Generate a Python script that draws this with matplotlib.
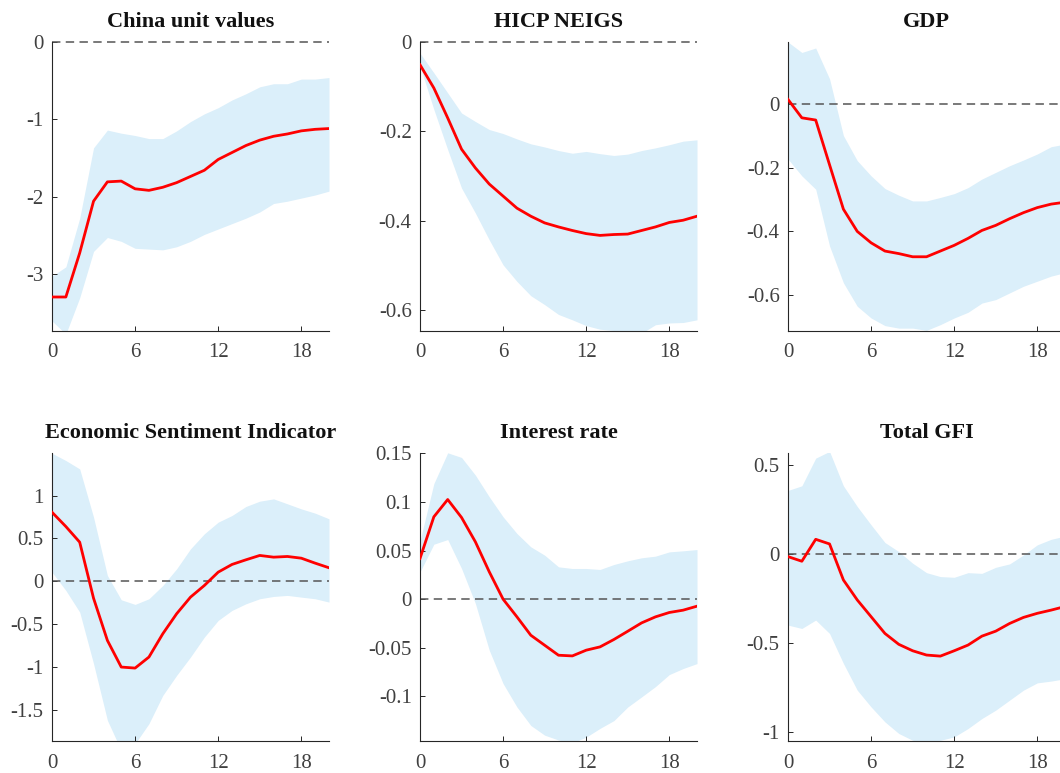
import numpy as np
import matplotlib
matplotlib.use("Agg")
import matplotlib.pyplot as plt

horizon = np.arange(21)
xticks = [0, 6, 12, 18]

titles = ["China unit values", "HICP NEIGS", "GDP",
          "Economic Sentiment Indicator", "Interest rate", "Total GFI"]

china_mid = [-3.30, -3.30, -2.73, -2.06, -1.81, -1.80, -1.90, -1.92, -1.88, -1.82, -1.74,
             -1.66, -1.52, -1.43, -1.34, -1.27, -1.22, -1.19, -1.15, -1.13, -1.12]
china_up = [-3.03, -2.91, -2.28, -1.37, -1.14, -1.18, -1.21, -1.25, -1.25, -1.15, -1.03,
            -0.93, -0.85, -0.75, -0.67, -0.58, -0.54, -0.54, -0.48, -0.48, -0.46]
china_lo = [-3.61, -3.78, -3.31, -2.71, -2.53, -2.58, -2.67, -2.68, -2.69, -2.65, -2.58,
            -2.49, -2.42, -2.35, -2.28, -2.20, -2.09, -2.06, -2.02, -1.98, -1.93]

hicp_mid = [-0.051, -0.103, -0.170, -0.240, -0.282, -0.318, -0.345, -0.372, -0.390, -0.405, -0.414,
            -0.422, -0.429, -0.433, -0.431, -0.430, -0.422, -0.414, -0.404, -0.399, -0.390]
hicp_up = [-0.025, -0.069, -0.114, -0.159, -0.178, -0.196, -0.205, -0.217, -0.228, -0.235, -0.243,
           -0.249, -0.245, -0.250, -0.254, -0.251, -0.243, -0.237, -0.230, -0.222, -0.219]
hicp_lo = [-0.054, -0.151, -0.241, -0.327, -0.383, -0.443, -0.499, -0.536, -0.568, -0.588, -0.610,
           -0.622, -0.635, -0.643, -0.646, -0.650, -0.652, -0.633, -0.629, -0.628, -0.622]

gdp_mid = [0.016, -0.042, -0.049, -0.19, -0.33, -0.40, -0.436, -0.462, -0.470, -0.480, -0.480,
           -0.462, -0.444, -0.422, -0.397, -0.381, -0.360, -0.341, -0.325, -0.314, -0.308]
gdp_up = [0.197, 0.164, 0.178, 0.081, -0.098, -0.177, -0.225, -0.265, -0.286, -0.304, -0.304,
          -0.293, -0.281, -0.262, -0.235, -0.214, -0.193, -0.175, -0.156, -0.133, -0.125]
gdp_lo = [-0.172, -0.225, -0.267, -0.446, -0.562, -0.636, -0.673, -0.697, -0.705, -0.705, -0.712,
          -0.694, -0.673, -0.655, -0.626, -0.615, -0.594, -0.573, -0.557, -0.541, -0.530]

esi_mid = [0.805, 0.638, 0.455, -0.20, -0.693, -1.004, -1.016, -0.887, -0.615, -0.381, -0.187,
           -0.051, 0.105, 0.195, 0.249, 0.300, 0.280, 0.288, 0.268, 0.210, 0.156]
esi_up = [1.494, 1.409, 1.311, 0.747, 0.066, -0.218, -0.272, -0.206, -0.051, 0.144, 0.377,
          0.553, 0.689, 0.767, 0.872, 0.934, 0.961, 0.903, 0.844, 0.794, 0.728]
esi_lo = [0.105, -0.109, -0.362, -0.965, -1.626, -1.98, -1.90, -1.665, -1.335, -1.101, -0.887,
          -0.654, -0.459, -0.342, -0.265, -0.206, -0.179, -0.167, -0.187, -0.206, -0.245]

rate_mid = [0.0419, 0.0848, 0.1026, 0.0841, 0.059, 0.0282, 0.0, -0.0182, -0.0371, -0.0474, -0.0577,
            -0.0584, -0.0525, -0.0491, -0.0415, -0.0330, -0.0244, -0.0182, -0.0137, -0.0113, -0.0072]
rate_up = [0.060, 0.119, 0.1507, 0.1459, 0.1277, 0.1054, 0.0848, 0.0676, 0.0539, 0.0453, 0.0333,
           0.0316, 0.0316, 0.0306, 0.0357, 0.0395, 0.0426, 0.0443, 0.0487, 0.0498, 0.0511]
rate_lo = [0.028, 0.0566, 0.0614, 0.0316, -0.0045, -0.0525, -0.0869, -0.111, -0.130, -0.140, -0.145,
           -0.148, -0.142, -0.133, -0.125, -0.111, -0.1006, -0.090, -0.0776, -0.0714, -0.0663]

gfi_mid = [-0.015, -0.041, 0.082, 0.056, -0.146, -0.258, -0.352, -0.446, -0.507, -0.543, -0.567,
           -0.573, -0.543, -0.511, -0.461, -0.433, -0.390, -0.356, -0.333, -0.315, -0.295]
gfi_up = [0.356, 0.382, 0.537, 0.575, 0.382, 0.266, 0.163, 0.064, 0.013, -0.052, -0.105,
          -0.127, -0.131, -0.105, -0.109, -0.075, -0.056, -0.006, 0.051, 0.082, 0.100]
gfi_lo = [-0.399, -0.418, -0.371, -0.446, -0.614, -0.764, -0.858, -0.942, -1.007, -1.045, -1.054,
          -1.045, -1.026, -0.979, -0.923, -0.876, -0.820, -0.764, -0.723, -0.713, -0.700]

mids = [china_mid, hicp_mid, gdp_mid, esi_mid, rate_mid, gfi_mid]
ups = [china_up, hicp_up, gdp_up, esi_up, rate_up, gfi_up]
los = [china_lo, hicp_lo, gdp_lo, esi_lo, rate_lo, gfi_lo]

yticks = [[0, -1, -2, -3],
          [0, -0.2, -0.4, -0.6],
          [0, -0.2, -0.4, -0.6],
          [1, 0.5, 0, -0.5, -1, -1.5],
          [0.15, 0.1, 0.05, 0, -0.05, -0.1],
          [0.5, 0, -0.5, -1]]
yticklabels = [["0", "-1", "-2", "-3"],
               ["0", "-0.2", "-0.4", "-0.6"],
               ["0", "-0.2", "-0.4", "-0.6"],
               ["1", "0.5", "0", "-0.5", "-1", "-1.5"],
               ["0.15", "0.1", "0.05", "0", "-0.05", "-0.1"],
               ["0.5", "0", "-0.5", "-1"]]
ylims = [(-3.74, 0.0), (-0.647, 0.0), (-0.714, 0.197),
         (-1.868, 1.497), (-0.146, 0.1505), (-1.049, 0.566)]

plt.rcParams['font.family'] = ['Liberation Serif', 'DejaVu Serif']

fig = plt.figure(figsize=(10.60, 7.73), dpi=100)
W, H = 1060.0, 773.0
lefts = [52, 420, 788]
rows = [(42, 331), (453, 741)]

for i in range(6):
    r, c = divmod(i, 3)
    top, bot = rows[r]
    ax = fig.add_axes([lefts[c] / W, 1 - bot / H, 277 / W, (bot - top) / H])
    ax.fill_between(horizon, los[i], ups[i], color='#dbeffa', lw=0, zorder=1)
    ax.plot([0, 20], [0, 0], ls=(0, (5.5, 3.5)), color='#555555', lw=1.1, zorder=2, clip_on=False)
    ax.plot(horizon, mids[i], color='#ff0000', lw=2.0, zorder=3)
    ax.set_xlim(0, 20)
    ax.set_ylim(*ylims[i])
    ax.set_xticks(xticks)
    ax.set_xticklabels([str(t) for t in xticks])
    ax.set_yticks(yticks[i])
    ax.set_yticklabels(yticklabels[i])
    for s in ['top', 'right']:
        ax.spines[s].set_visible(False)
    for s in ['left', 'bottom']:
        ax.spines[s].set_linewidth(0.8)
        ax.spines[s].set_color('#262626')
    ax.tick_params(direction='in', length=3.5, width=0.7, color='#262626',
                   labelsize=15, labelcolor='#404040')
    ax.tick_params(axis='x', pad=9)
    ax.tick_params(axis='y', pad=6)
    ax.set_title(titles[i], fontsize=16, fontweight='bold', pad=11, color='#111111')

fig.savefig("out.png", dpi=100)
